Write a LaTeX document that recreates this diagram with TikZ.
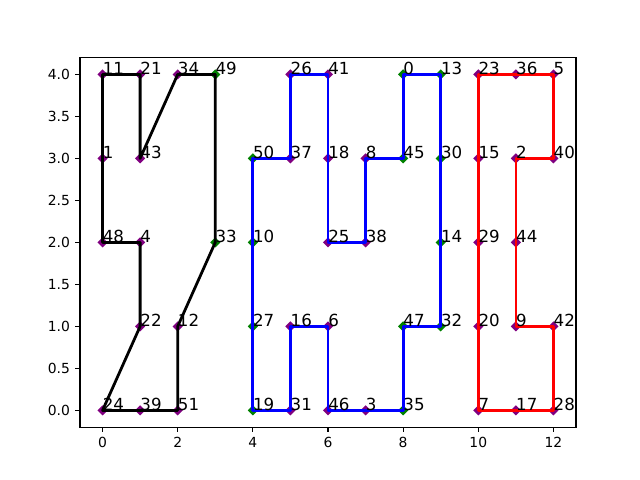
\documentclass[tikz,border=0pt]{standalone}
\usepackage{fontspec}
\setmainfont{DejaVu Sans}
\usetikzlibrary{shapes.geometric}
\definecolor{mpurple}{HTML}{800080}
\definecolor{mgreen}{HTML}{008000}
\definecolor{mblue}{HTML}{0000FF}
\definecolor{mred}{HTML}{FF0000}
\begin{document}
\begin{tikzpicture}[
  mk/.style={diamond, fill=#1, draw=none, inner sep=0pt, minimum size=7.5pt},
  route/.style={draw=#1, line width=2pt, line join=round, line cap=rect},
  lbl/.style={anchor=base west, inner sep=0pt, font=\fontsize{12}{14}\selectfont},
  ticklbl/.style={inner sep=0pt, font=\fontsize{10}{12}\selectfont},
  tickline/.style={line width=0.8pt},
  frame/.style={line width=0.8pt}
]
\useasboundingbox (0,0) rectangle (460.8pt,345.6pt);
\begin{scope}[shift={(73.833pt,50.112pt)}, x=27.055pt, y=60.48pt]
% points
\foreach \n/\x/\y/\c in {
  11/0/4/mpurple, 21/1/4/mpurple, 34/2/4/mpurple, 49/3/4/mgreen,
  1/0/3/mpurple, 43/1/3/mpurple, 48/0/2/mpurple, 4/1/2/mpurple, 33/3/2/mgreen,
  22/1/1/mpurple, 12/2/1/mpurple, 24/0/0/mpurple, 39/1/0/mpurple, 51/2/0/mpurple,
  50/4/3/mgreen, 37/5/3/mpurple, 26/5/4/mpurple, 41/6/4/mpurple, 18/6/3/mpurple,
  25/6/2/mpurple, 38/7/2/mpurple, 8/7/3/mpurple, 45/8/3/mgreen, 0/8/4/mgreen,
  13/9/4/mgreen, 30/9/3/mgreen, 14/9/2/mgreen, 32/9/1/mgreen, 47/8/1/mgreen,
  35/8/0/mgreen, 3/7/0/mpurple, 46/6/0/mpurple, 6/6/1/mpurple, 16/5/1/mpurple,
  31/5/0/mpurple, 19/4/0/mgreen, 27/4/1/mgreen, 10/4/2/mgreen,
  23/10/4/mpurple, 36/11/4/mpurple, 5/12/4/mpurple, 15/10/3/mpurple, 2/11/3/mpurple,
  40/12/3/mpurple, 29/10/2/mpurple, 44/11/2/mpurple, 20/10/1/mpurple, 9/11/1/mpurple,
  42/12/1/mpurple, 7/10/0/mpurple, 17/11/0/mpurple, 28/12/0/mpurple}
{
  \coordinate (p\n) at (\x,\y);
  \node[mk=\c] (m\n) at (p\n) {};
}
% routes
\draw[route=black] (p24) -- (p22) -- (p4) -- (p48) -- (p1) -- (p11) -- (p21) -- (p43)
  -- (p34) -- (p49) -- (p33) -- (p12) -- (p51) -- (p39) -- cycle;
\draw[route=mblue] (p50) -- (p37) -- (p26) -- (p41) -- (p18) -- (p25) -- (p38) -- (p8)
  -- (p45) -- (p0) -- (p13) -- (p30) -- (p14) -- (p32) -- (p47) -- (p35) -- (p3)
  -- (p46) -- (p6) -- (p16) -- (p31) -- (p19) -- (p27) -- (p10) -- cycle;
\draw[route=mred] (p23) -- (p36) -- (p5) -- (p40) -- (p2) -- (p44) -- (p9) -- (p42)
  -- (p28) -- (p17) -- (p7) -- (p20) -- (p29) -- (p15) -- cycle;
% labels
\foreach \n in {11,21,34,49,1,43,48,4,33,22,12,24,39,51,
  50,37,26,41,18,25,38,8,45,0,13,30,14,32,47,35,3,46,6,16,31,19,27,10,
  23,36,5,15,2,40,29,44,20,9,42,7,17,28}
{
  \node[lbl] (l\n) at (p\n) {\n};
}
% axes frame
\coordinate (ll) at (-0.6,-0.2);
\coordinate (ur) at (12.6,4.2);
\draw[frame] (ll) rectangle (ur);
% x ticks
\foreach \t in {0,2,4,6,8,10,12}{
  \coordinate (xa\t) at (\t,-0.2);
  \draw[tickline] (xa\t) -- ++(0,-3.5pt);
  \node[ticklbl, anchor=north] (xt\t) at ([yshift=-7pt]xa\t) {\t};
}
% y ticks
\foreach \t/\s [count=\i] in {0/0.0,0.5/0.5,1/1.0,1.5/1.5,2/2.0,2.5/2.5,3/3.0,3.5/3.5,4/4.0}{
  \coordinate (ya\i) at (-0.6,\t);
  \draw[tickline] (ya\i) -- ++(-3.5pt,0);
  \node[ticklbl, anchor=east] (yt\i) at ([xshift=-7pt]ya\i) {\s};
}
\end{scope}
\end{tikzpicture}
\end{document}
